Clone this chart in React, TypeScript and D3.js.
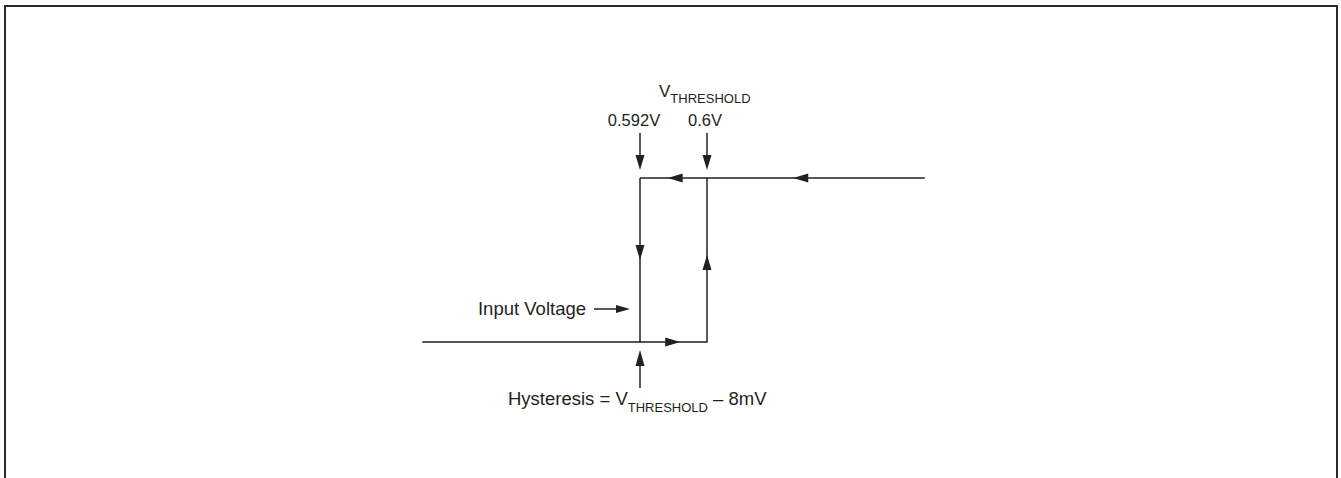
import React from "react";
import * as d3 from "d3";

const width = 1341;
const height = 478;

// input voltage levels (V)
const thresholds = [0.592, 0.6];
const thresholdLabels = ["0.592V", "0.6V"];
const inputRange = [0.566, 0.626];
// output level: 0 = low, 1 = high
const outputLevels = [0, 1];
// arrow tips along the loop
const topArrows = [0.5953, 0.6103];
const bottomArrows = [0.5968];
const leftDownArrow = 0.5;
const rightUpArrow = 0.53;

const ink = "#231f20";
const font = "'Liberation Sans', Arial, Helvetica, sans-serif";

const x = d3.scaleLinear().domain(thresholds).range([640, 707]);
const y = d3.scaleLinear().domain(outputLevels).range([342, 178]);

const Arrow = ({ tx, ty, dir, len = 15, half = 4.5 }) => {
  // dir: "left" | "right" | "up" | "down"
  let pts;
  if (dir === "left") pts = [[tx, ty], [tx + len, ty - half], [tx + len, ty + half]];
  else if (dir === "right") pts = [[tx, ty], [tx - len, ty - half], [tx - len, ty + half]];
  else if (dir === "up") pts = [[tx, ty], [tx - half, ty + len], [tx + half, ty + len]];
  else pts = [[tx, ty], [tx - half, ty - len], [tx + half, ty - len]];
  return <polygon points={pts.map(p => p.join(",")).join(" ")} fill={ink} />;
};

const App = () => {
  const [lo, hi] = thresholds;
  const line = d3.line();
  const loop = line([
    [x(inputRange[0]), y(0)],
    [x(hi), y(0)],
    [x(hi), y(1)],
    [x(inputRange[1]), y(1)]
  ]);
  const fallEdge = line([
    [x(lo), y(1)],
    [x(lo), y(0)]
  ]);
  const topLeft = line([
    [x(lo), y(1)],
    [x(hi), y(1)]
  ]);
  const labelShift = [-6, -2];

  return (
    <svg
      width={width}
      height={height}
      style={{ position: "absolute", left: 0, top: 0, background: "#fff" }}
      fontFamily={font}
    >
      <rect x={5} y={6} width={1332} height={520} fill="none" stroke="#2a2a2a" strokeWidth={2} />

      <g fill="none" stroke={ink} strokeWidth={1.5}>
        <path d={loop} />
        <path d={fallEdge} />
        <path d={topLeft} />
      </g>

      {topArrows.map((v, i) => (
        <Arrow key={"t" + i} tx={x(v)} ty={y(1)} dir="left" />
      ))}
      {bottomArrows.map((v, i) => (
        <Arrow key={"b" + i} tx={x(v)} ty={y(0)} dir="right" />
      ))}
      <Arrow tx={x(lo)} ty={y(leftDownArrow)} dir="down" />
      <Arrow tx={x(hi)} ty={y(rightUpArrow)} dir="up" />

      {/* threshold markers */}
      {thresholds.map((v, i) => (
        <g key={"th" + i}>
          <line x1={x(v)} x2={x(v)} y1={133} y2={160} stroke={ink} strokeWidth={1.5} />
          <Arrow tx={x(v)} ty={170} dir="down" />
          <text x={x(v) + labelShift[i]} y={126} textAnchor="middle" fontSize={16.5} fill={ink}>
            {thresholdLabels[i]}
          </text>
        </g>
      ))}
      <text x={659} y={97} fontSize={17} fill={ink}>
        V<tspan fontSize={13} dy={6}>THRESHOLD</tspan>
      </text>

      {/* input voltage label */}
      <text x={586} y={315} textAnchor="end" fontSize={18.5} fill={ink}>
        Input Voltage
      </text>
      <line x1={594} x2={618} y1={309} y2={309} stroke={ink} strokeWidth={1.5} />
      <Arrow tx={630} ty={309} dir="right" len={14} half={4} />

      {/* hysteresis */}
      <line x1={x(lo)} x2={x(lo)} y1={362} y2={388} stroke={ink} strokeWidth={1.5} />
      <Arrow tx={x(lo)} ty={350} dir="up" len={16} half={4.5} />
      <text x={508} y={405} fontSize={18.5} fill={ink}>
        Hysteresis = V<tspan fontSize={13} dy={7}>THRESHOLD</tspan>
        <tspan fontSize={18.5} dy={-7}> – 8mV</tspan>
      </text>
    </svg>
  );
};

export default App;
